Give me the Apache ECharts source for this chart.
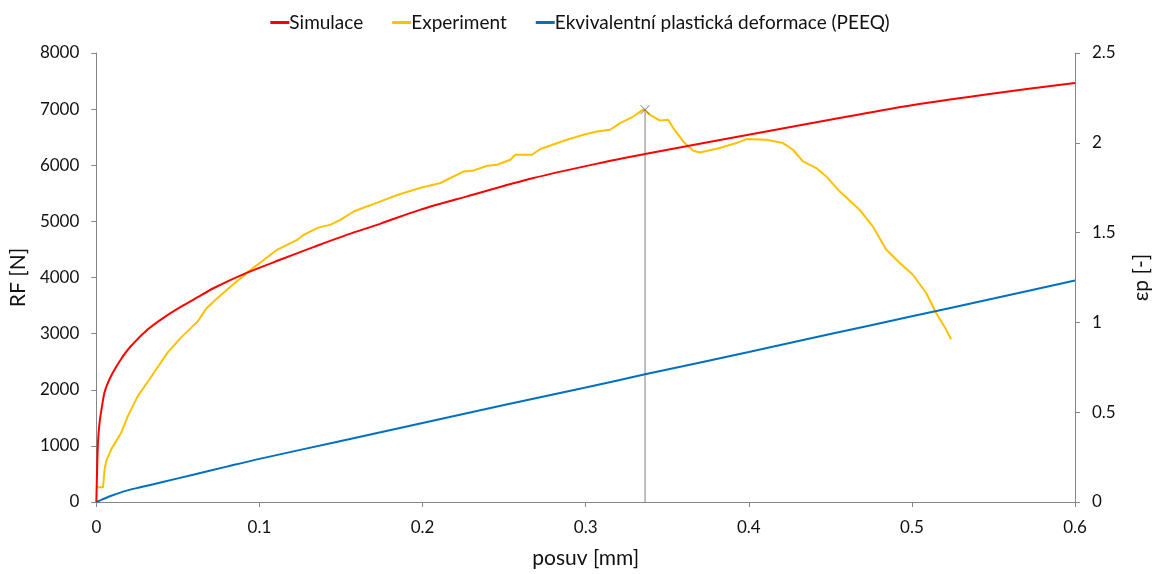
<!DOCTYPE html>
<html>
<head>
<meta charset="utf-8">
<script src="https://cdn.jsdelivr.net/npm/echarts@6/dist/echarts.min.js"></script>
<style>
  html, body { margin: 0; padding: 0; background: #fff; }
  #chart { width: 1160px; height: 574px; }
</style>
</head>
<body>
<div id="chart"></div>
<script>
// Simulated reaction force: [posuv mm, RF N]
const simulace = [
  [0, 0], [0.0005, 600], [0.001, 1067], [0.002, 1420], [0.0035, 1710],
  [0.005, 1950], [0.0072, 2130], [0.01, 2300], [0.015, 2540], [0.021, 2770],
  [0.0316, 3076], [0.0416, 3290], [0.052, 3480], [0.0622, 3650], [0.0724, 3817],
  [0.0928, 4090], [0.1131, 4320], [0.1335, 4546], [0.1539, 4764], [0.1743, 4960],
  [0.1988, 5210], [0.2273, 5446], [0.268, 5772], [0.3089, 6040], [0.3364, 6200],
  [0.374, 6406], [0.4556, 6840], [0.5, 7070], [0.55, 7280], [0.6, 7465]
];

// Measured reaction force: [posuv mm, RF N]
const experiment = [
  [0, 265], [0.0041, 265], [0.0051, 590], [0.0061, 734], [0.0092, 942],
  [0.0153, 1239], [0.0194, 1535], [0.0255, 1890], [0.0326, 2187], [0.0438, 2667],
  [0.052, 2933], [0.0622, 3218], [0.0673, 3444], [0.0724, 3585], [0.0826, 3846],
  [0.0928, 4095], [0.103, 4320], [0.111, 4498], [0.1234, 4676], [0.1274, 4764],
  [0.1356, 4884], [0.1437, 4942], [0.1498, 5031], [0.158, 5180], [0.1743, 5357],
  [0.1845, 5470], [0.1988, 5600], [0.211, 5684], [0.2253, 5890], [0.2314, 5908],
  [0.2396, 5992], [0.2457, 6010], [0.2538, 6098], [0.2569, 6187], [0.2671, 6187],
  [0.2722, 6289], [0.2885, 6454], [0.2987, 6543], [0.3068, 6602], [0.315, 6632],
  [0.3211, 6750], [0.3292, 6868], [0.3354, 6995], [0.3395, 6898], [0.3456, 6797],
  [0.3506, 6810], [0.3537, 6662], [0.3598, 6424], [0.3659, 6258], [0.37, 6228],
  [0.3822, 6306], [0.3924, 6395], [0.3986, 6466], [0.4108, 6454], [0.421, 6395],
  [0.4271, 6276], [0.4332, 6068], [0.4414, 5950], [0.4475, 5801], [0.4557, 5535],
  [0.4679, 5209], [0.476, 4913], [0.4842, 4498], [0.4924, 4262], [0.5005, 4054],
  [0.5087, 3728], [0.5148, 3373], [0.5209, 3076], [0.524, 2898]
];

// Equivalent plastic strain PEEQ: [posuv mm, εp -]
const peeq = [
  [0, 0], [0.004, 0.016], [0.0092, 0.035], [0.018, 0.062], [0.0275, 0.083],
  [0.04, 0.11], [0.06, 0.153], [0.08, 0.197], [0.1, 0.24], [0.15, 0.34],
  [0.2, 0.44], [0.25, 0.54], [0.3, 0.637], [0.3364, 0.711], [0.4, 0.835],
  [0.45, 0.935], [0.5, 1.034], [0.55, 1.133], [0.6, 1.233]
];

// Marker of the experimental maximum force
const maxima = [[0.3364, 0], [0.3364, 6990]];

const xTicks = [0, 0.1, 0.2, 0.3, 0.4, 0.5, 0.6];
const names = ['Simulace', 'Experiment', 'Ekvivalentní plastická deformace (PEEQ)'];

const FONT = 'Lato, "Open Sans", sans-serif';
const axisGray = '#868686';
const textColor = '#111';

const chart = echarts.init(document.getElementById('chart'));
chart.setOption({
  animation: false,
  textStyle: { fontFamily: FONT },
  legend: {
    data: names,
    top: 8,
    left: 'center',
    itemGap: 29,
    itemWidth: 19,
    itemHeight: 3,
    icon: 'rect',
    textStyle: { fontSize: 19, color: textColor, fontFamily: FONT, padding: [0, 0, 0, -5] }
  },
  grid: { left: 95, right: 84, top: 53, bottom: 71, containLabel: false },
  xAxis: {
    type: 'value',
    min: xTicks[0], max: xTicks[xTicks.length - 1], interval: 0.1,
    name: 'posuv [mm]', nameLocation: 'middle', nameGap: 46,
    nameTextStyle: { fontSize: 21, color: textColor, fontFamily: FONT },
    axisLine: { lineStyle: { color: axisGray, width: 1 } },
    axisTick: { show: true, length: 5, lineStyle: { color: axisGray } },
    axisLabel: { fontSize: 17, color: textColor, margin: 17, fontFamily: FONT },
    splitLine: { show: false }
  },
  yAxis: [
    {
      type: 'value', min: 0, max: 8000, interval: 1000,
      name: 'RF [N]', nameLocation: 'middle', nameGap: 62, nameRotate: 90,
      nameTextStyle: { fontSize: 21, color: textColor, fontFamily: FONT },
      axisLine: { show: true, lineStyle: { color: axisGray, width: 1 } },
      axisTick: { show: true, length: 5, lineStyle: { color: axisGray } },
      axisLabel: { fontSize: 17, color: textColor, margin: 17, fontFamily: FONT,
        formatter: v => String(v) },
      splitLine: { show: false }
    },
    {
      type: 'value', min: 0, max: 2.5, interval: 0.5, position: 'right',
      name: 'εp [-]', nameLocation: 'middle', nameGap: 56, nameRotate: 90,
      nameTextStyle: { fontSize: 21, color: textColor, fontFamily: FONT },
      axisLine: { show: true, lineStyle: { color: axisGray, width: 1 } },
      axisTick: { show: true, length: 5, lineStyle: { color: axisGray } },
      axisLabel: { fontSize: 17, color: textColor, margin: 17, fontFamily: FONT,
        formatter: v => String(v) },
      splitLine: { show: false }
    }
  ],
  series: [
    {
      name: 'max', type: 'line', yAxisIndex: 0, data: maxima,
      showSymbol: false, silent: true, z: 1,
      lineStyle: { color: '#7f7f7f', width: 1 }
    },
    {
      name: 'maxMark', type: 'scatter', yAxisIndex: 0, data: [maxima[1]],
      symbol: 'path://M0,0 L10,10 M10,0 L0,10', symbolSize: 9, silent: true, z: 5,
      itemStyle: { color: 'none', borderColor: '#555', borderWidth: 1 }
    },
    {
      name: names[0], type: 'line', yAxisIndex: 0, data: simulace,
      showSymbol: false, smooth: 0.3, z: 3,
      itemStyle: { color: '#FF0000' }, lineStyle: { color: '#FF0000', width: 2 }
    },
    {
      name: names[1], type: 'line', yAxisIndex: 0, data: experiment,
      showSymbol: false, z: 2,
      itemStyle: { color: '#FFC000' }, lineStyle: { color: '#FFC000', width: 2 }
    },
    {
      name: names[2], type: 'line', yAxisIndex: 1, data: peeq,
      showSymbol: false, smooth: 0.3, z: 2,
      itemStyle: { color: '#0070C0' }, lineStyle: { color: '#0070C0', width: 2 }
    }
  ]
});
</script>
</body>
</html>
